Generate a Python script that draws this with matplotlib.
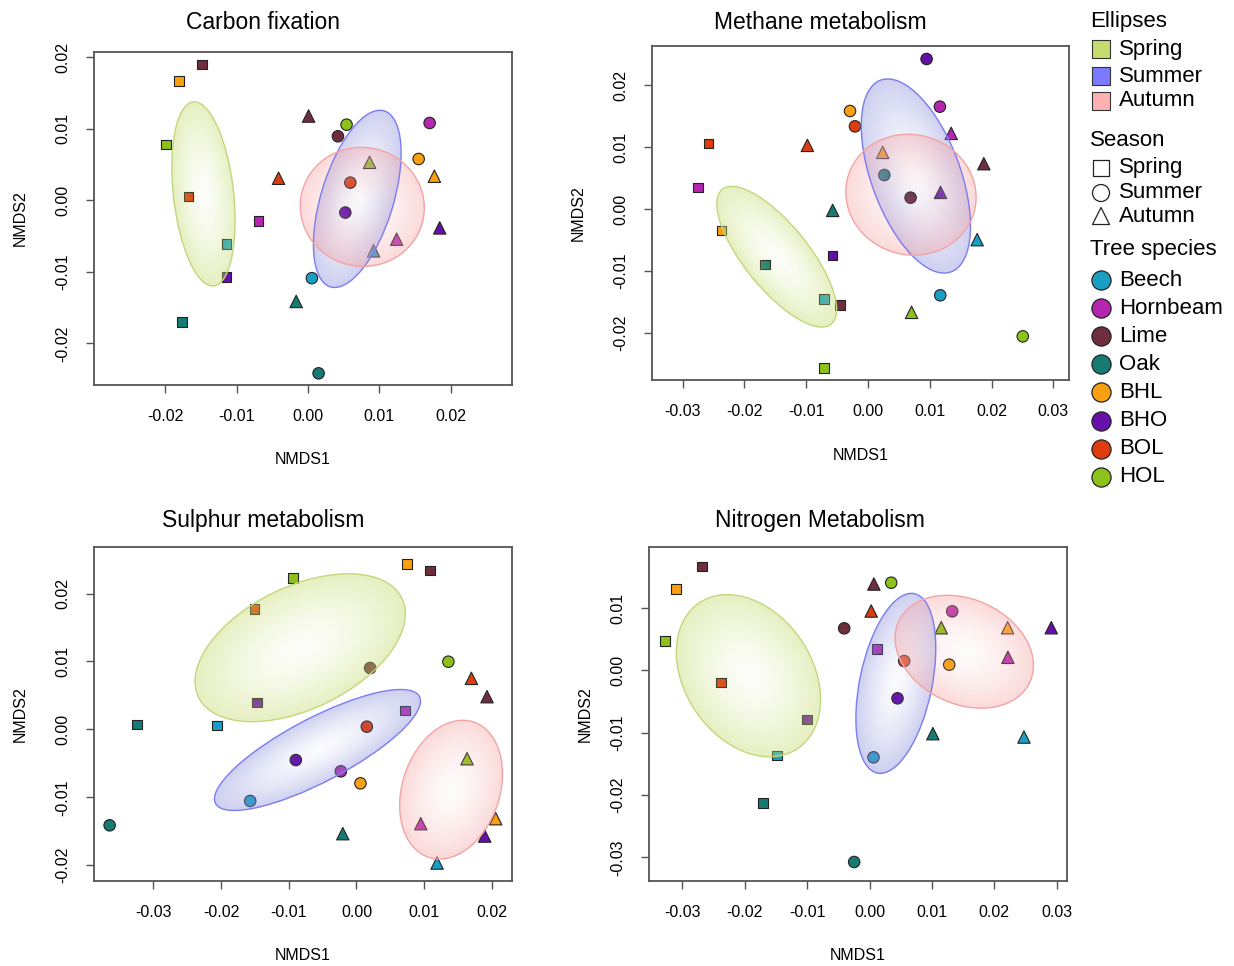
import numpy as np
import matplotlib
matplotlib.use("Agg")
from matplotlib import pyplot as plt
from matplotlib.patches import Ellipse
from matplotlib.colors import to_rgb

plt.rcParams['font.family'] = ['Liberation Sans', 'DejaVu Sans']
plt.rcParams['axes.unicode_minus'] = False

# species / season order used by every panel's point arrays
species = ['Beech', 'Hornbeam', 'Lime', 'Oak', 'BHL', 'BHO', 'BOL', 'HOL']
species_colors = ['#1A9FC4', '#B526B0', '#6E2E3E', '#157B73',
                  '#F8A00F', '#6510A8', '#DC3D0E', '#8CC21A']
seasons = ['Spring', 'Summer', 'Autumn']
season_markers = ['s', 'o', '^']
ellipse_colors = ['#C5DC6E', '#7B7BFF', '#FFB0B0']
ellipse_fills = ['#C5DC6E', '#8C90DC', '#F7A8A8']
ellipse_edges = ['#C2D77C', '#7C7CF2', '#F2A4A4']

titles = ['Carbon fixation', 'Methane metabolism',
          'Sulphur metabolism', 'Nitrogen Metabolism']

# NMDS scores: 8 spring, 8 summer, 8 autumn (species order above)
carbon_x = [-0.01141, -0.00692, -0.01487, -0.01767, -0.01809, -0.01141, -0.01674, -0.01987,
            0.00056, 0.01706, 0.00421, 0.00150, 0.01552, 0.00524, 0.00594, 0.00542,
            0.00921, 0.01244, 0.00010, -0.00164, 0.01772, 0.01847, -0.00411, 0.00865]
carbon_y = [-0.00609, -0.00288, 0.01897, -0.01697, 0.01669, -0.01069, 0.00051, 0.00776,
            -0.01088, 0.01079, 0.00893, -0.02417, 0.00576, -0.00172, 0.00246, 0.01055,
            -0.00707, -0.00544, 0.01176, -0.01413, 0.00335, -0.00386, 0.00307, 0.00530]

methane_x = [-0.00711, -0.02746, -0.00452, -0.01669, -0.02369, -0.00576, -0.02579, -0.00711,
             0.01169, 0.01163, 0.00689, 0.00264, -0.00291, 0.00948, -0.00210, 0.02504,
             0.01766, 0.01346, 0.01874, -0.00571, 0.00237, 0.01174, -0.00980, 0.00705]
methane_y = [-0.01454, 0.00345, -0.01550, -0.00899, -0.00350, -0.00754, 0.01061, -0.02573,
             -0.01394, 0.01653, 0.00183, 0.00549, 0.01583, 0.02423, 0.01335, -0.02057,
             -0.00495, 0.01222, 0.00732, -0.00022, 0.00915, 0.00269, 0.01028, -0.01669]

sulphur_x = [-0.02057, 0.00719, 0.01083, -0.03243, 0.00748, -0.01467, -0.01506, -0.00940,
             -0.01570, -0.00231, 0.00202, -0.03647, 0.00059, -0.00896, 0.00153, 0.01358,
             0.01191, 0.00950, 0.01929, -0.00202, 0.02057, 0.01895, 0.01698, 0.01634]
sulphur_y = [0.00059, 0.00280, 0.02341, 0.00074, 0.02439, 0.00398, 0.01772, 0.02233,
             -0.01055, -0.00618, 0.00903, -0.01413, -0.00795, -0.00452, 0.00039, 0.00996,
             -0.01968, -0.01389, 0.00481, -0.01536, -0.01315, -0.01571, 0.00751, -0.00432]

nitrogen_x = [-0.01481, 0.00118, -0.02684, -0.01706, -0.03102, -0.01000, -0.02380, -0.03278,
              0.00064, 0.01326, -0.00406, -0.00246, 0.01278, 0.00449, 0.00556, 0.00348,
              0.02476, 0.02219, 0.00070, 0.01016, 0.02214, 0.02914, 0.00027, 0.01150]
nitrogen_y = [-0.01364, 0.00342, 0.01668, -0.02128, 0.01310, -0.00786, -0.00198, 0.00471,
              -0.01396, 0.00947, 0.00674, -0.03075, 0.00091, -0.00449, 0.00150, 0.01406,
              -0.01070, 0.00209, 0.01385, -0.01016, 0.00684, 0.00684, 0.00952, 0.00684]

# season ellipses: centre x, centre y, semi-axis a, semi-axis b, angle (deg)
carbon_ell = [(-0.01463, 0.00088, 0.01293, 0.00422, 96.4),
              (0.00692, 0.00019, 0.01285, 0.00507, 72.9),
              (0.00762, -0.00093, 0.00870, 0.00830, -10)]
methane_ell = [(-0.01476, -0.00770, 0.01400, 0.00520, -51),
               (0.00775, 0.00533, 0.01650, 0.00720, 110.2),
               (0.00695, 0.00231, 0.01060, 0.00970, -15)]
sulphur_ell = [(-0.00832, 0.01202, 0.01670, 0.00900, 25.8),
               (-0.00576, -0.00304, 0.01700, 0.00470, 27.6),
               (0.01398, -0.00888, 0.01050, 0.00720, 71.5)]
nitrogen_ell = [(-0.01941, -0.00086, 0.01410, 0.01020, -56),
                (0.00422, -0.00209, 0.01470, 0.00580, 78.4),
                (0.01519, 0.00299, 0.01160, 0.00840, -25)]

panel_x = [carbon_x, methane_x, sulphur_x, nitrogen_x]
panel_y = [carbon_y, methane_y, sulphur_y, nitrogen_y]
panel_ell = [carbon_ell, methane_ell, sulphur_ell, nitrogen_ell]

x_ticks = [[-0.02, -0.01, 0.0, 0.01, 0.02],
           [-0.03, -0.02, -0.01, 0.0, 0.01, 0.02, 0.03],
           [-0.03, -0.02, -0.01, 0.0, 0.01, 0.02],
           [-0.03, -0.02, -0.01, 0.0, 0.01, 0.02, 0.03]]
y_ticks = [[-0.02, -0.01, 0.0, 0.01, 0.02],
           [-0.02, -0.01, 0.0, 0.01, 0.02],
           [-0.02, -0.01, 0.0, 0.01, 0.02],
           [-0.03, -0.02, -0.01, 0.0, 0.01]]

# layout (pixels in a 1234x966 figure)
W, H = 1234, 966
boxes = [(94, 512, 52, 385), (652, 1069, 46, 380),
         (94, 512, 547, 881), (649, 1067, 547, 881)]
limits = [((-0.02997, 0.0286), (-0.0258, 0.0207)),
          ((-0.03494, 0.03252), (-0.02762, 0.02633)),
          ((-0.03878, 0.02298), (-0.02233, 0.02685)),
          ((-0.03535, 0.03166), (-0.0338, 0.01979))]
title_pos = [(263, 29), (820, 29), (263, 527), (820, 527)]
xlab_off = [75, 75, 74, 74]
ylab_off = [74, 74, 74, 64]


def gradient_ellipse(ax, cx, cy, a, b, ang, color, edge):
    t = np.deg2rad(ang)
    hw = np.sqrt((a * np.cos(t)) ** 2 + (b * np.sin(t)) ** 2)
    hh = np.sqrt((a * np.sin(t)) ** 2 + (b * np.cos(t)) ** 2)
    n = 240
    gx, gy = np.meshgrid(np.linspace(cx - hw, cx + hw, n),
                         np.linspace(cy - hh, cy + hh, n))
    dx, dy = gx - cx, gy - cy
    u = (dx * np.cos(t) + dy * np.sin(t)) / a
    v = (-dx * np.sin(t) + dy * np.cos(t)) / b
    r = np.clip(np.sqrt(u ** 2 + v ** 2), 0, 1)
    rgba = np.zeros((n, n, 4))
    rgba[..., :3] = to_rgb(color)
    rgba[..., 3] = 0.03 + 0.40 * r ** 1.4
    im = ax.imshow(rgba, extent=(cx - hw, cx + hw, cy - hh, cy + hh),
                   origin='lower', aspect='auto', interpolation='bilinear', zorder=3)
    patch = Ellipse((cx, cy), 2 * a, 2 * b, angle=ang, fc='none',
                    ec=edge, lw=1.0, zorder=4)
    ax.add_patch(patch)
    im.set_clip_path(patch)


fig = plt.figure(figsize=(W / 100, H / 100), dpi=100)

for i in range(4):
    l, r, t, b = boxes[i]
    ax = fig.add_axes([l / W, 1 - b / H, (r - l) / W, (b - t) / H])
    xs = np.array(panel_x[i])
    ys = np.array(panel_y[i])
    for si, mk in enumerate(season_markers):
        sl = slice(si * 8, si * 8 + 8)
        size = {'s': 48, 'o': 68, '^': 80}[mk]
        ax.scatter(xs[sl], ys[sl], marker=mk, s=size, c=species_colors,
                   edgecolors='#222222', linewidths=0.8, zorder=2)
    for si, (cx, cy, ea, eb, ang) in enumerate(panel_ell[i]):
        gradient_ellipse(ax, cx, cy, ea, eb, ang, ellipse_fills[si], ellipse_edges[si])

    ax.set_xlim(*limits[i][0])
    ax.set_ylim(*limits[i][1])
    ax.set_xticks(x_ticks[i])
    ax.set_yticks(y_ticks[i])
    ax.set_xticklabels(['%.2f' % v for v in x_ticks[i]])
    ax.set_yticklabels(['%.2f' % v for v in y_ticks[i]], rotation=90, va='center')
    ax.tick_params(direction='out', length=6, width=1.0, color='#555555',
                   labelsize=11.5, pad=11)
    for sp in ax.spines.values():
        sp.set_color('#555555')
        sp.set_linewidth(1.3)

    bh = b - t
    bw = r - l
    ax.text(0.5, -xlab_off[i] / bh, 'NMDS1', transform=ax.transAxes,
            ha='center', va='center', fontsize=11.5)
    ax.text(-ylab_off[i] / bw, 0.5, 'NMDS2', transform=ax.transAxes,
            ha='center', va='center', rotation=90, fontsize=11.5)
    fig.text(title_pos[i][0] / W, 1 - title_pos[i][1] / H, titles[i],
             ha='center', va='baseline', fontsize=16.5)

# legend column on the right, drawn in pixel coordinates
leg = fig.add_axes([0, 0, 1, 1], zorder=-1)
leg.set_xlim(0, W)
leg.set_ylim(H, 0)
leg.axis('off')
head_x, mark_x, text_x = 1090, 1101, 1119
fs = 16

leg.text(head_x, 21, 'Ellipses', fontsize=fs, va='center')
for k, (lab, y) in enumerate(zip(seasons, [49, 76, 101])):
    leg.scatter([mark_x], [y], marker='s', s=150, c=ellipse_colors[k],
                edgecolors='#333333', linewidths=0.8)
    leg.text(text_x, y, lab, fontsize=fs, va='center')

leg.text(head_x, 141, 'Season', fontsize=fs, va='center')
for k, (lab, y) in enumerate(zip(seasons, [168, 193, 216])):
    leg.scatter([mark_x], [y], marker=season_markers[k], s=[140, 150, 150][k],
                facecolors='none', edgecolors='#222222', linewidths=0.9)
    leg.text(text_x, y, lab, fontsize=fs, va='center')

leg.text(head_x, 249, 'Tree species', fontsize=fs, va='center')
for k, lab in enumerate(species):
    y = 280 + k * 28.1
    leg.scatter([mark_x], [y], marker='o', s=190, c=species_colors[k],
                edgecolors='#222222', linewidths=0.9)
    leg.text(text_x, y, lab, fontsize=fs, va='center')

fig.savefig('out.png', dpi=100)
